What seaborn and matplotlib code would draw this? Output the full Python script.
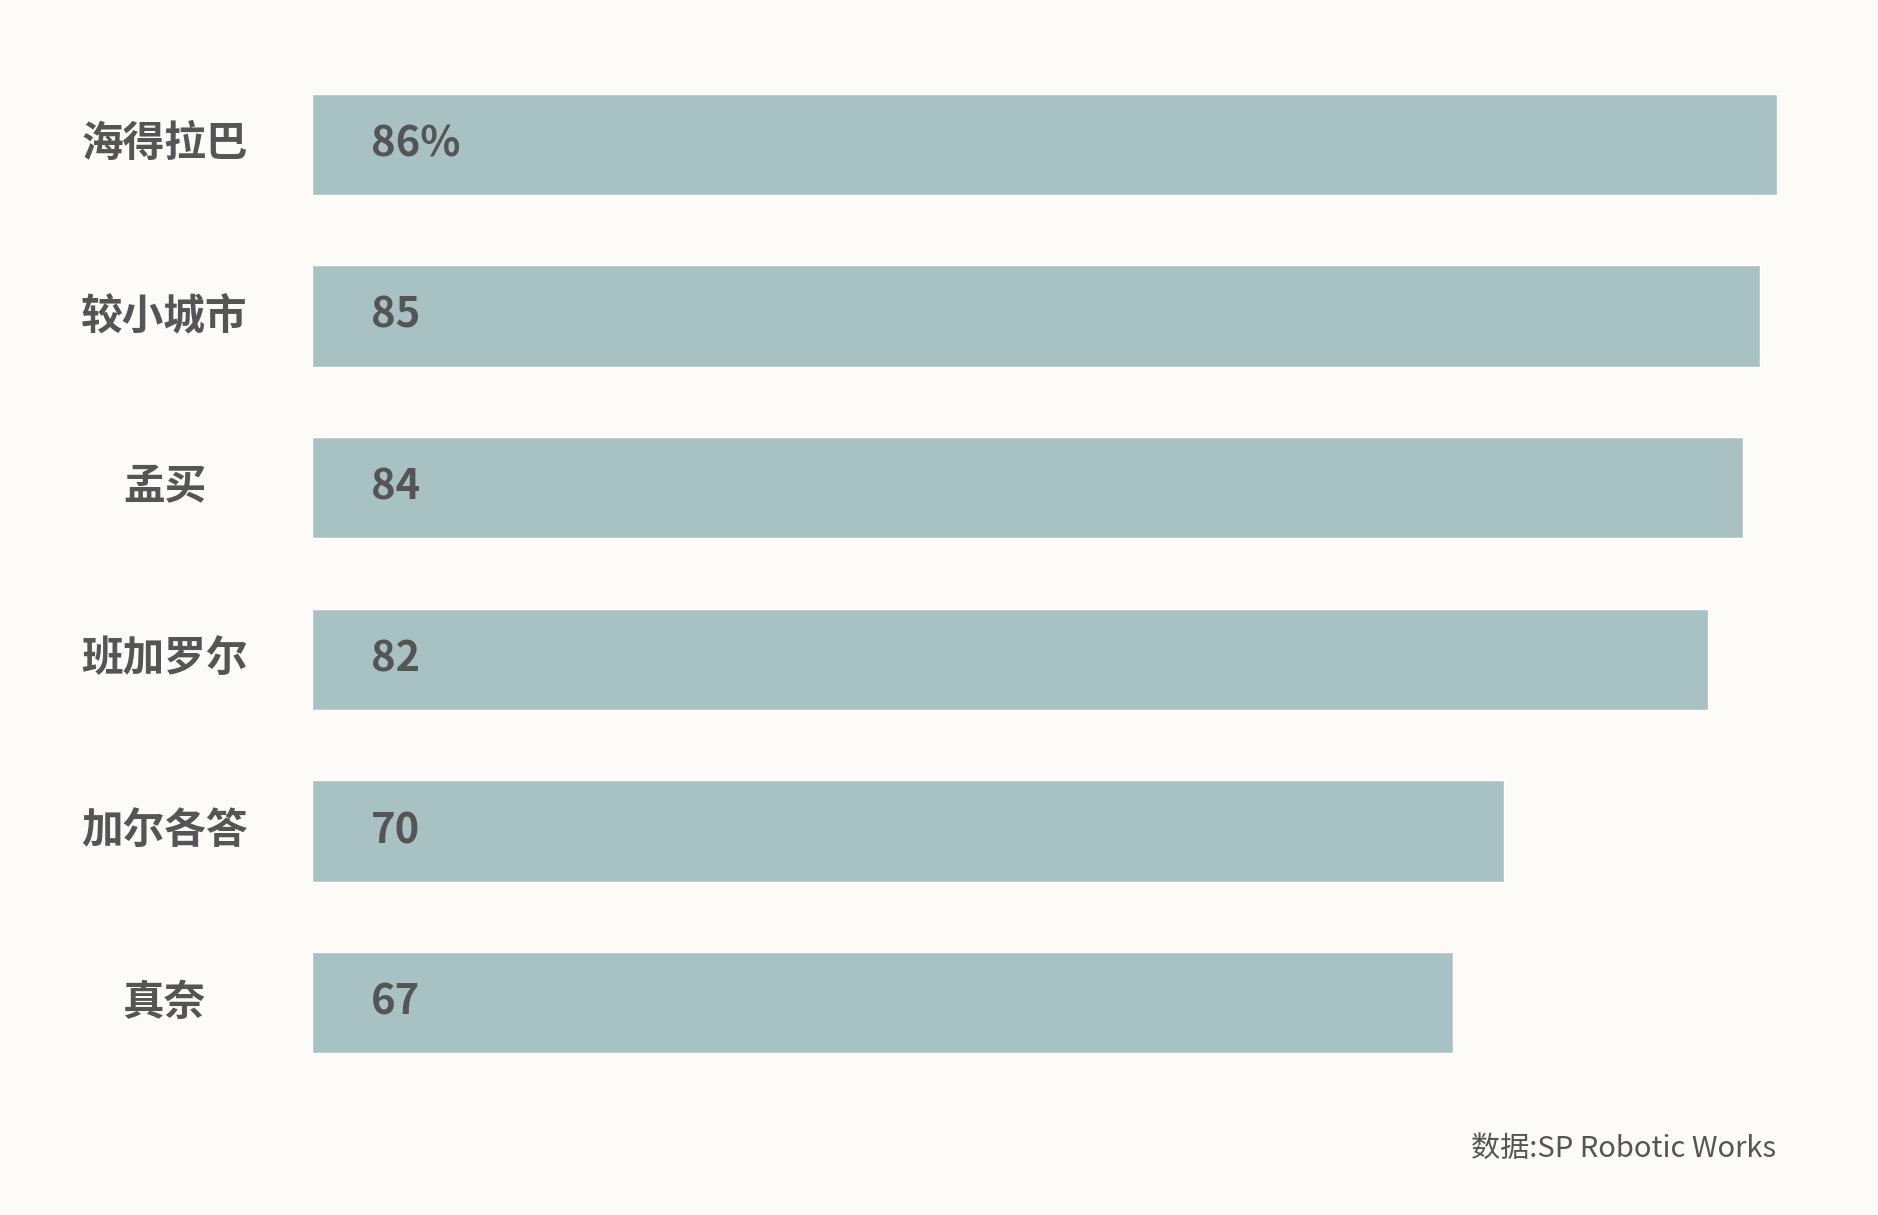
import matplotlib
matplotlib.use("Agg")
import matplotlib.pyplot as plt
import seaborn as sns
import pandas as pd

cities = ["海得拉巴", "较小城市", "孟买", "班加罗尔", "加尔各答", "真奈"]
values = [86, 85, 84, 82, 70, 67]
labels = ["86%", "85", "84", "82", "70", "67"]
source = "数据:SP Robotic Works"

sns.set_theme(style="white")
plt.rcParams['font.family'] = ['Noto Sans CJK SC', 'DejaVu Sans']
bg = "#fcfbf7"
fig = plt.figure(figsize=(18.78, 12.15), dpi=100, facecolor=bg)
ax = fig.add_axes([0.166, 0.104, 0.780, 0.848], facecolor=bg)
df = pd.DataFrame({"city": cities, "v": values})
sns.barplot(data=df, x="v", y="city", color="#a8c1c2", saturation=1, width=0.59, ax=ax)
ax.set_xlim(0, 86)
ax.set_ylim(5.5, -0.5)
for s in ax.spines.values():
    s.set_visible(False)
ax.set_xticks([]); ax.set_yticks([])
ax.set_xlabel(""); ax.set_ylabel("")
tr = ax.get_yaxis_transform()
for i, (c, l) in enumerate(zip(cities, labels)):
    ax.text(-0.1006, i, c, transform=tr, ha="center", va="center",
            fontsize=30, fontweight="bold", color="#555555")
    ax.text(3.5, i, l, ha="left", va="center", fontsize=30,
            fontweight="bold", color="#555555")
fig.text(0.946, 0.054, source, ha="right", va="center", fontsize=21, color="#555555")
fig.savefig("out.png", dpi=100, facecolor=bg)
